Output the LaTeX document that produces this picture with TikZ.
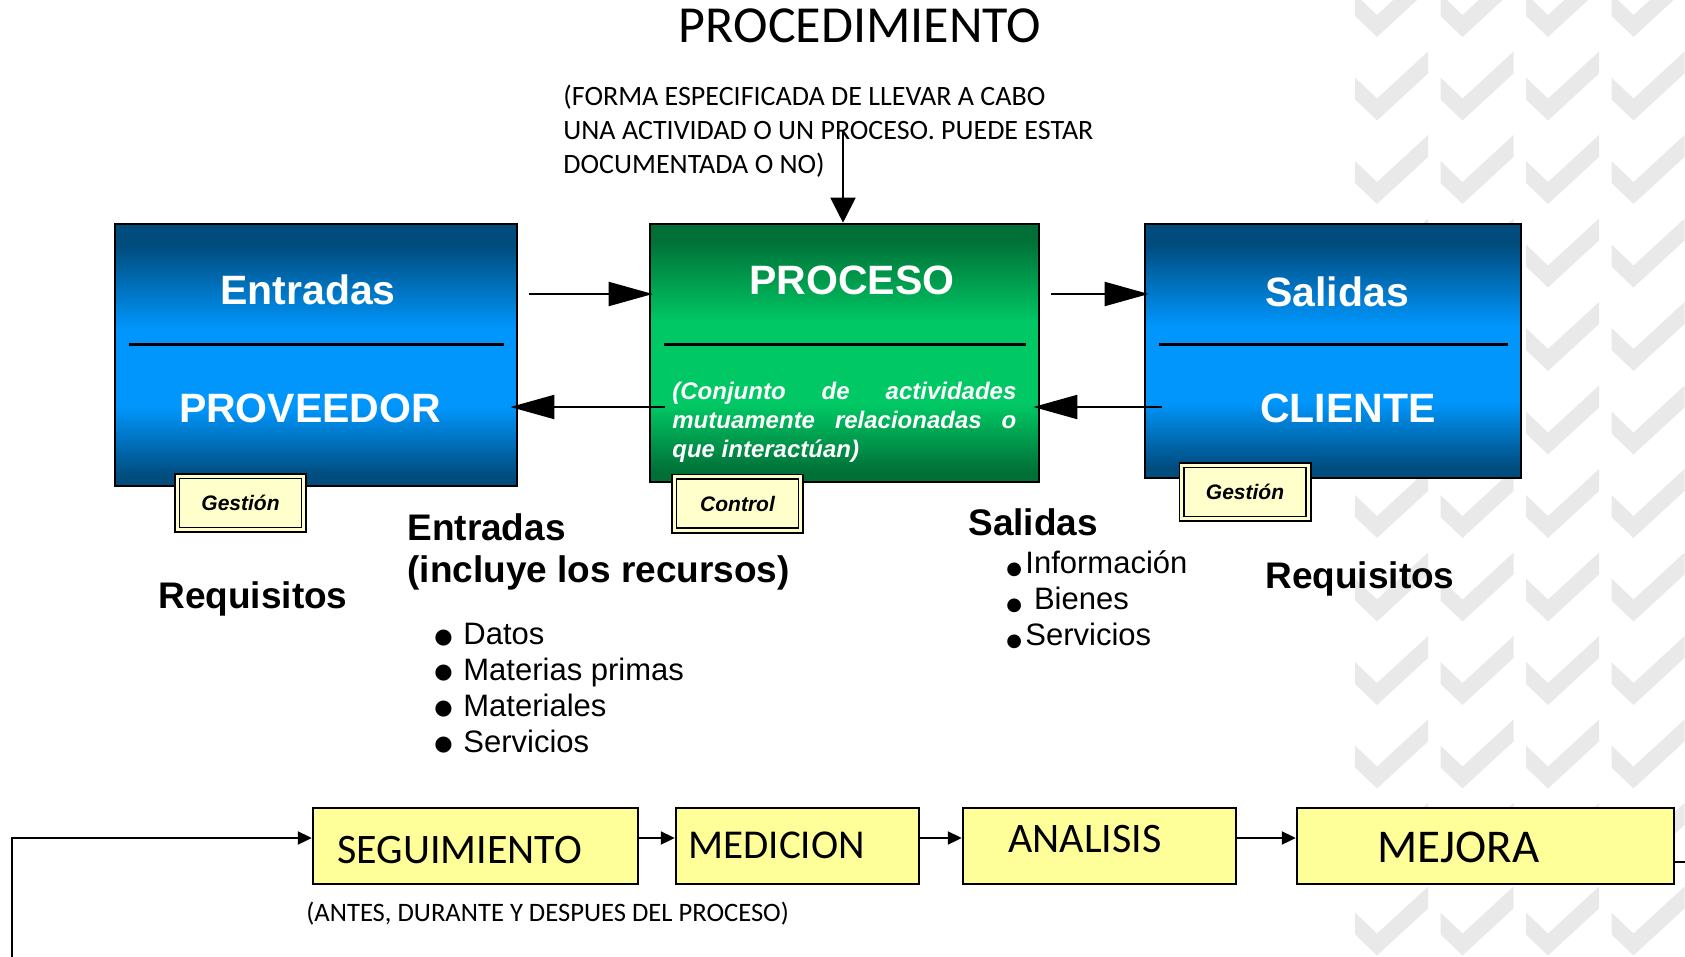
\documentclass[tikz,border=0pt]{standalone}
\usepackage{fontspec}
\setmainfont{Liberation Sans}
\newfontfamily\calibri{Carlito}
\newfontfamily\dejavu{DejaVu Sans}
\usetikzlibrary{arrows.meta}
\hyphenpenalty=10000

\definecolor{bleufonce}{RGB}{0,76,125}
\definecolor{bleuclair}{RGB}{0,150,252}
\definecolor{vertfonce}{RGB}{0,112,55}
\definecolor{vertclair}{RGB}{0,200,100}
\definecolor{notefond}{RGB}{255,255,204}
\definecolor{etapefond}{RGB}{255,255,153}
\definecolor{cochegris}{RGB}{233,233,233}

\pgfdeclareverticalshading{fondbleu}{100bp}{color(0bp)=(bleufonce); color(27bp)=(bleufonce); color(40bp)=(bleuclair); color(55bp)=(bleuclair); color(71bp)=(bleufonce); color(100bp)=(bleufonce)}
\pgfdeclareverticalshading{fondvert}{100bp}{color(0bp)=(vertfonce); color(27bp)=(vertfonce); color(40bp)=(vertclair); color(56bp)=(vertclair); color(72bp)=(vertfonce); color(100bp)=(vertfonce)}

% puces des listes
\newcommand{\puce}{\makebox[14.5pt][l]{\raisebox{0.8pt}{\dejavu\fontsize{10.5}{10.5}\selectfont ●}}}
\newcommand{\pucep}{\makebox[9.5pt][l]{\raisebox{-0.7pt}{\dejavu\fontsize{9}{9}\selectfont ●}}}

\begin{document}
\begin{tikzpicture}[x=0.5pt, y=-0.5pt,
    boite/.style={draw=black, line width=1.3pt, inner sep=0pt, shade},
    titreboite/.style={anchor=base, inner sep=0pt, text=white, font=\bfseries\fontsize{20.5}{24}\selectfont},
    note/.style={draw=black, line width=0.9pt, double=notefond, double distance=1.4pt, fill=notefond,
      inner sep=0pt, minimum width=63.3pt, minimum height=26.8pt, font=\bfseries\itshape\fontsize{10.5}{12}\selectfont},
    etiquette/.style={anchor=base west, inner sep=0pt, font=\bfseries\fontsize{18.5}{21}\selectfont},
    liste/.style={anchor=base west, inner sep=0pt, align=left, font=\fontsize{15.5}{17.9}\selectfont},
    etape/.style={draw=black, line width=1.2pt, fill=etapefond, inner sep=0pt, minimum height=38pt},
    etapetexte/.style={anchor=base west, inner sep=0pt, font=\calibri\fontsize{21}{24}\selectfont},
    grandefleche/.style={line width=1pt, -{Triangle[length=22pt,width=12pt]}},
    petitefleche/.style={line width=1pt, -{Triangle[length=7pt,width=6.5pt]}}]

  \useasboundingbox (0,0) rectangle (1685,957);

  % filigrane
  \begin{scope}
    \clip (0,0) rectangle (1685,957);
    \foreach \cx in {1377,1462.5,1548,1633.5}
      \foreach \cy in {37,120.5,...,1040}
        \fill[cochegris] (\cx-22,\cy-43) -- (\cx,\cy-22) -- (\cx+51,\cy-69) -- (\cx+51,\cy-47)
          -- (\cx,\cy) -- (\cx-22,\cy-21) -- cycle;
  \end{scope}

  % titre et definition (ancre sur la derniere ligne)
  \node[anchor=base, inner sep=0pt, font=\calibri\fontsize{26}{30}\selectfont] (titre) at (860,43) {PROCEDIMIENTO};
  \node[anchor=base west, inner sep=0pt, align=left, font=\calibri\fontsize{14}{17}\selectfont] (definition) at (563,174)
    {(FORMA ESPECIFICADA DE LLEVAR A CABO\\UNA ACTIVIDAD O UN PROCESO. PUEDE ESTAR\\DOCUMENTADA O NO)};

  % boites principales
  \node[boite, shading=fondbleu, minimum width=201pt, minimum height=131pt] (entrees) at (316,355) {};
  \node[boite, shading=fondvert, minimum width=194.5pt, minimum height=129pt] (proces) at (844.5,353) {};
  \node[boite, shading=fondbleu, minimum width=188pt, minimum height=127pt] (sorties) at (1333,351) {};

  % lignes de separation
  \coordinate (sep) at (0,344);
  \draw[line width=1.5pt] ([xshift=7.5pt]entrees.west |- sep) -- ([xshift=-7pt]entrees.east |- sep);
  \draw[line width=1.5pt] ([xshift=7.5pt]proces.west |- sep) -- ([xshift=-7pt]proces.east |- sep);
  \draw[line width=1.5pt] ([xshift=7.5pt]sorties.west |- sep) -- ([xshift=-7pt]sorties.east |- sep);

  % textes des boites
  \node[titreboite] (tentrees) at (308,304) {Entradas};
  \node[titreboite] (tfournisseur) at (310,422) {PROVEEDOR};
  \node[titreboite] (tproces) at (852,294) {PROCESO};
  \node[titreboite] (tsorties) at (1337,306) {Salidas};
  \node[titreboite] (tclient) at (1348,422) {CLIENTE};
  \node[anchor=base west, inner sep=0pt, text width=172pt, align=justify, text=white,
    font=\bfseries\itshape\fontsize{12}{14.5}\selectfont] (tdef) at (672,399)
    {(Conjunto de actividades mutuamente relacionadas o que interactúan)};

  % etiquettes
  \node[note] (gestion1) at (240.5,503) {Gestión};
  \node[note] (controle) at (737.5,503.5) {Control};
  \node[note] (gestion2) at (1245,492) {Gestión};

  % fleches entre les boites
  \coordinate (ligne1) at (0,294);
  \coordinate (ligne2) at (0,407);
  \draw[grandefleche] ([xshift=5.5pt]entrees.east |- ligne1) -- ([xshift=2pt]proces.west |- ligne1);
  \draw[grandefleche] ([xshift=5.5pt]proces.east |- ligne1) -- ([xshift=2.5pt]sorties.west |- ligne1);
  \draw[grandefleche] ([xshift=8pt]proces.west |- ligne2) -- ([xshift=-4pt]entrees.east |- ligne2);
  \draw[grandefleche] ([xshift=9pt]sorties.west |- ligne2) -- ([xshift=-3.5pt]proces.east |- ligne2);
  \coordinate (depart) at (843,130);
  \draw[line width=1pt, -{Triangle[length=12.5pt,width=12.5pt]}] (depart) -- (depart |- proces.north);

  % entrees et sorties
  \node[etiquette] (lentrees) at (407,540) {Entradas};
  \node[etiquette] (lrecursos) at (407,582) {(incluye los recursos)};
  \node[liste] (lstentrees) at (434,752) {\puce Datos\\\puce Materias primas\\\puce Materiales\\\puce Servicios};
  \node[etiquette] (lreq1) at (158,608) {Requisitos};
  \node[etiquette] (lsorties) at (968,535) {Salidas};
  \node[liste, font=\fontsize{15.5}{18}\selectfont] (lstsorties) at (1006,645) {\pucep Información\\\pucep{} Bienes\\\pucep Servicios};
  \node[etiquette] (lreq2) at (1265,588) {Requisitos};

  % boucle du bas
  \node[etape, minimum width=162.5pt] (suivi) at (475.5,846) {};
  \node[etape, minimum width=121.5pt] (mesure) at (797.5,846) {};
  \node[etape, minimum width=136.5pt] (analyse) at (1099.5,846) {};
  \node[etape, minimum width=188.5pt] (mejora) at (1485.5,846) {};
  \node[etapetexte] (tsuivi) at (337,863) {SEGUIMIENTO};
  \node[etapetexte, font=\calibri\fontsize{20.5}{24}\selectfont] (tmesure) at (688,858) {MEDICION};
  \node[etapetexte] (tanalyse) at (1008,852) {ANALISIS};
  \node[etapetexte, font=\calibri\fontsize{23.5}{26}\selectfont] (tmejora) at (1377,862) {MEJORA};
  \node[anchor=base west, inner sep=0pt, font=\calibri\fontsize{13.3}{15}\selectfont] (moment) at (306,921)
    {(ANTES, DURANTE Y DESPUES DEL PROCESO)};

  \coordinate (ligne3) at (0,838);
  \draw[petitefleche] (suivi.east |- ligne3) -- (mesure.west |- ligne3);
  \draw[petitefleche] (mesure.east |- ligne3) -- (analyse.west |- ligne3);
  \draw[petitefleche] (analyse.east |- ligne3) -- (mejora.west |- ligne3);
  \coordinate (retour) at (11.5,957);
  \draw[petitefleche] (retour) |- (suivi.west |- ligne3);
  \coordinate (sortie) at (1685,862);
  \draw[line width=1pt] (mejora.east |- sortie) -- (sortie);

\end{tikzpicture}
\end{document}
